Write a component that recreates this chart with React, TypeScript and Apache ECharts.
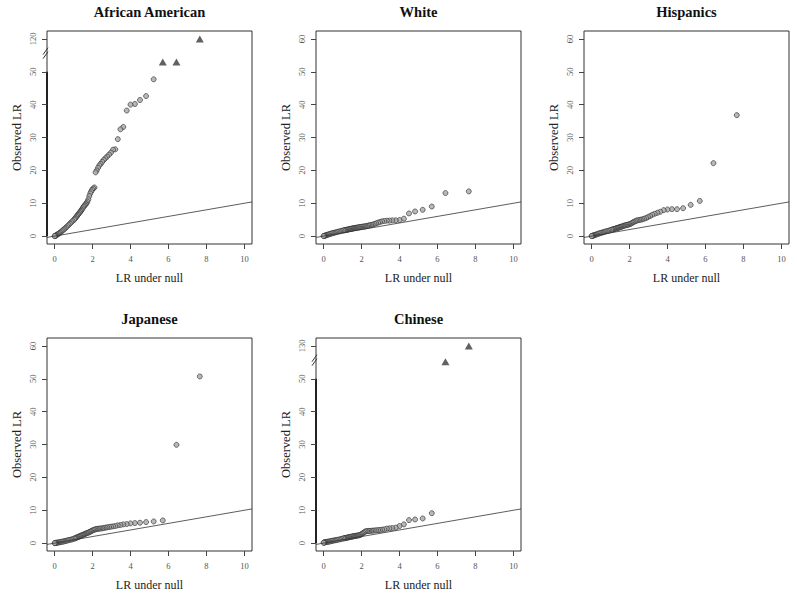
import React, { useEffect, useRef } from "react";
import * as echarts from "echarts";

// Expected (null) LR quantiles, shared by all panels
const X_NULL = [7.65, 6.42, 5.70, 5.22, 4.82, 4.50, 4.23, 4.00, 3.80, 3.62, 3.47, 3.33, 3.20, 3.08, 2.97, 2.87, 2.77, 2.68, 2.59, 2.51, 2.43, 2.36, 2.29, 2.22, 2.16, 2.10, 2.04, 1.98, 1.93, 1.88, 1.83, 1.78, 1.73, 1.68, 1.64, 1.59, 1.55, 1.51, 1.47, 1.43, 1.39, 1.35, 1.31, 1.27, 1.23, 1.19, 1.15, 1.11, 1.07, 1.03, 0.95, 0.88, 0.81, 0.74, 0.67, 0.60, 0.54, 0.48, 0.42, 0.36, 0.30, 0.25, 0.20, 0.15, 0.11, 0.07, 0.04, 0.02, 0.00];

const AA_Y = [null, null, null, 47.7, 42.6, 41.4, 40.2, 40.0, 38.2, 33.2, 32.5, 29.5, 26.4, 26.3, 25.4, 24.8, 24.2, 23.7, 23.2, 22.6, 22.0, 21.5, 20.8, 20.0, 19.4, 14.8, 14.5, 14.1, 13.6, 13.0, 12.2, 11.2, 10.5, 10.0, 9.7, 9.4, 9.1, 8.8, 8.4, 8.0, 7.7, 7.4, 7.1, 6.8, 6.5, 6.2, 5.9, 5.6, 5.3, 5.0, 4.6, 4.2, 3.8, 3.4, 3.0, 2.6, 2.3, 2.0, 1.7, 1.4, 1.1, 0.9, 0.7, 0.5, 0.35, 0.2, 0.1, 0.05, 0.0];
const AA_TRI_X = [5.70, 6.42, 7.65];
const AA_TRI_Y = [53, 53, 60];

const WHITE_Y = [13.6, 13.1, 9.0, 8.0, 7.5, 6.9, 5.3, 4.9, 4.8, 4.8, 4.7, 4.7, 4.6, 4.5, 4.3, 4.1, 3.9, 3.7, 3.5, 3.4, 3.3, 3.2, 3.1, 3.0, 2.95, 2.9, 2.85, 2.8, 2.75, 2.7, 2.65, 2.6, 2.55, 2.5, 2.45, 2.4, 2.35, 2.3, 2.25, 2.2, 2.15, 2.1, 2.05, 2.0, 1.95, 1.9, 1.85, 1.8, 1.75, 1.7, 1.6, 1.5, 1.4, 1.3, 1.2, 1.1, 1.0, 0.9, 0.8, 0.7, 0.6, 0.5, 0.4, 0.3, 0.2, 0.15, 0.1, 0.05, 0.0];

const HISP_Y = [36.8, 22.2, 10.7, 9.5, 8.5, 8.2, 8.2, 8.1, 7.9, 7.4, 7.1, 6.8, 6.5, 6.1, 5.8, 5.5, 5.3, 5.1, 5.0, 4.9, 4.8, 4.7, 4.5, 4.3, 4.1, 3.9, 3.7, 3.6, 3.5, 3.4, 3.35, 3.3, 3.2, 3.1, 3.0, 2.9, 2.85, 2.8, 2.7, 2.6, 2.5, 2.45, 2.4, 2.3, 2.2, 2.15, 2.1, 2.0, 1.95, 1.9, 1.75, 1.6, 1.5, 1.4, 1.3, 1.15, 1.05, 0.95, 0.85, 0.75, 0.6, 0.5, 0.4, 0.3, 0.2, 0.15, 0.1, 0.05, 0.0];

const JAP_Y = [50.7, 29.9, 6.9, 6.6, 6.4, 6.2, 6.1, 6.0, 5.8, 5.7, 5.5, 5.4, 5.2, 5.1, 5.0, 4.9, 4.8, 4.7, 4.6, 4.5, 4.45, 4.4, 4.35, 4.3, 4.2, 4.1, 4.0, 3.8, 3.6, 3.5, 3.35, 3.2, 3.1, 3.0, 2.9, 2.75, 2.65, 2.55, 2.45, 2.35, 2.25, 2.15, 2.05, 1.95, 1.85, 1.75, 1.65, 1.55, 1.45, 1.35, 1.2, 1.1, 1.0, 0.9, 0.8, 0.7, 0.6, 0.5, 0.45, 0.4, 0.3, 0.25, 0.2, 0.15, 0.1, 0.1, 0.05, 0.0, 0.0];

const CHN_Y = [null, null, 9.1, 7.5, 7.2, 7.0, 5.7, 5.2, 4.7, 4.6, 4.5, 4.4, 4.2, 4.1, 4.0, 3.95, 3.9, 3.85, 3.8, 3.75, 3.7, 3.7, 3.65, 3.6, 3.4, 3.1, 2.9, 2.7, 2.5, 2.4, 2.35, 2.3, 2.25, 2.2, 2.15, 2.1, 2.05, 2.0, 1.95, 1.9, 1.85, 1.8, 1.75, 1.7, 1.65, 1.6, 1.55, 1.5, 1.45, 1.4, 1.3, 1.2, 1.1, 1.0, 0.95, 0.85, 0.8, 0.7, 0.65, 0.55, 0.5, 0.45, 0.4, 0.35, 0.3, 0.25, 0.2, 0.15, 0.1];
const CHN_TRI_X = [6.42, 7.65];
const CHN_TRI_Y = [55.2, 60];

const TITLES = ["African American", "White", "Hispanics", "Japanese", "Chinese"];
const X_TICKS = [0, 2, 4, 6, 8, 10];
const Y_TICKS = [0, 10, 20, 30, 40, 50, 60];
const TOP_LABELS = ["120", "60", "60", "60", "130"];
const BROKEN = [true, false, false, false, true];
const XLIM = [-0.4, 10.4];
const YLIM = [-2.4, 62.4];
const BREAK_AT = 55.5;

const PANELS = [
  { y: AA_Y, triX: AA_TRI_X, triY: AA_TRI_Y },
  { y: WHITE_Y, triX: [], triY: [] },
  { y: HISP_Y, triX: [], triY: [] },
  { y: JAP_Y, triX: [], triY: [] },
  { y: CHN_Y, triX: CHN_TRI_X, triY: CHN_TRI_Y },
];

const GRID_LEFT = [47, 316, 584, 47, 316];
const GRID_TOP = [31, 31, 31, 338, 338];
const GRID_W = 205;
const GRID_H = 213;
const FONT = "Liberation Serif";

export default function App() {
  const ref = useRef<HTMLDivElement>(null);
  useEffect(() => {
    document.body.style.margin = "0";
    const chart = echarts.init(ref.current!, null, { renderer: "svg" });
    const grid: any[] = [];
    const xAxis: any[] = [];
    const yAxis: any[] = [];
    const series: any[] = [];
    PANELS.forEach((p, i) => {
      grid.push({
        left: GRID_LEFT[i], top: GRID_TOP[i], width: GRID_W, height: GRID_H,
        show: true, borderColor: "#333", borderWidth: 1, backgroundColor: "transparent",
      });
      xAxis.push({
        type: "value", gridIndex: i, min: XLIM[0], max: XLIM[1],
        axisLine: { show: false, onZero: false },
        splitLine: { show: false },
        axisTick: { show: true, customValues: X_TICKS, length: 5, lineStyle: { color: "#444" } },
        axisLabel: { customValues: X_TICKS, fontSize: 8.5, color: "#555", margin: 10, fontFamily: FONT },
        name: "LR under null", nameLocation: "middle", nameGap: 28,
        nameTextStyle: { fontSize: 12, color: "#222", fontFamily: FONT },
      });
      const top = TOP_LABELS[i];
      yAxis.push({
        type: "value", gridIndex: i, min: YLIM[0], max: YLIM[1],
        axisLine: { show: false, onZero: false },
        splitLine: { show: false },
        axisTick: { show: true, customValues: Y_TICKS, length: 5, lineStyle: { color: "#444" } },
        axisLabel: {
          customValues: Y_TICKS, fontSize: 8.5, color: "#555", margin: 10, rotate: 90, fontFamily: FONT,
          formatter: (v: number) => (v === 60 ? top : String(v)),
        },
        name: "Observed LR", nameLocation: "middle", nameGap: 24,
        nameTextStyle: { fontSize: 12.5, color: "#222", fontFamily: FONT },
      });
      series.push({
        type: "scatter", xAxisIndex: i, yAxisIndex: i, symbol: "circle", symbolSize: 5,
        itemStyle: { color: "#a6a6a6", borderColor: "#2a2a2a", borderWidth: 0.8 },
        data: X_NULL.map((x, k) => (p.y[k] == null ? null : [x, p.y[k]])).filter((d) => d),
        z: 3,
      });
      if (p.triX.length) {
        series.push({
          type: "scatter", xAxisIndex: i, yAxisIndex: i, symbol: "triangle", symbolSize: [8, 7],
          itemStyle: { color: "#3a3a3a" },
          data: p.triX.map((x, k) => [x, p.triY[k]]),
          z: 3,
        });
      }
      series.push({
        type: "line", xAxisIndex: i, yAxisIndex: i, symbol: "none", silent: true,
        lineStyle: { color: "#333", width: 0.8 },
        data: [[XLIM[0], XLIM[0]], [XLIM[1], XLIM[1]]],
        z: 4,
      });
    });
    chart.setOption({ animation: false, grid, xAxis, yAxis, series });

    const graphic: any[] = [];
    PANELS.forEach((_, i) => {
      graphic.push({
        type: "text", x: GRID_LEFT[i] + GRID_W / 2, y: GRID_TOP[i] - 19,
        style: { text: TITLES[i], textAlign: "center", textVerticalAlign: "middle", font: `bold 14.5px "${FONT}"`, fill: "#111" },
      });
      if (BROKEN[i]) {
        const b = chart.convertToPixel({ gridIndex: i } as any, [XLIM[0], BREAK_AT]) as number[];
        const a0 = chart.convertToPixel({ gridIndex: i } as any, [XLIM[0], 0]) as number[];
        const a1 = chart.convertToPixel({ gridIndex: i } as any, [XLIM[0], 50]) as number[];
        graphic.push({ type: "line", shape: { x1: a0[0], y1: a0[1], x2: a1[0], y2: a1[1] }, style: { stroke: "#222", lineWidth: 2 } });
        graphic.push({ type: "line", shape: { x1: b[0] - 4, y1: b[1] + 1, x2: b[0] + 1, y2: b[1] - 6 }, style: { stroke: "#333", lineWidth: 1 } });
        graphic.push({ type: "line", shape: { x1: b[0] - 4, y1: b[1] + 5, x2: b[0] + 1, y2: b[1] - 2 }, style: { stroke: "#333", lineWidth: 1 } });
      }
    });
    chart.setOption({ graphic });
    return () => chart.dispose();
  }, []);
  return <div ref={ref} style={{ position: "absolute", left: 0, top: 0, width: 797, height: 595, background: "#fff" }} />;
}
